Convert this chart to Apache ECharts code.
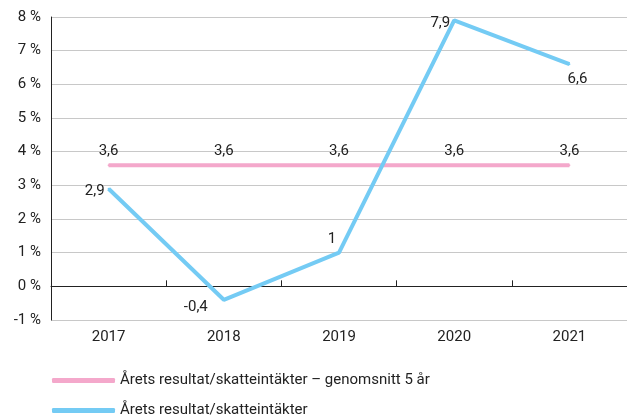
<!DOCTYPE html>
<html>
<head>
<meta charset="utf-8">
<script src="https://cdn.jsdelivr.net/npm/echarts@6/dist/echarts.min.js"></script>
<style>
    html, body { margin: 0; padding: 0; background: #fff; }
    #chart { width: 627px; height: 417px; }
</style>
</head>
<body>
<div id="chart"></div>
<script>
const years = ['2017', '2018', '2019', '2020', '2021'];
const average = [3.6, 3.6, 3.6, 3.6, 3.6];
const result = [2.9, -0.4, 1, 7.9, 6.6];
const resultLabelPos = ['left', 'bottom', 'top', 'left', 'bottom'];
const resultLabelShift = [[2, 3], [-28, -6], [-7, 0], [2, 3], [8, 2]];
const avgName = 'Årets resultat/skatteintäkter – genomsnitt 5 år';
const resName = 'Årets resultat/skatteintäkter';

const fmt = v => String(v).replace('.', ',');
const font = 'Roboto';
const pink = '#f4a8cb';
const blue = '#74cbf4';

function legendAt(top, name, color) {
    return {
        left: 47,
        top,
        icon: 'roundRect',
        itemWidth: 63,
        itemHeight: 5,
        textStyle: { fontFamily: font, fontSize: 15, color: '#222' },
        data: [{ name, itemStyle: { color, opacity: 1 } }]
    };
}

const chart = echarts.init(document.getElementById('chart'));
const option = {
    backgroundColor: '#fff',
    animation: false,
    textStyle: { fontFamily: font },
    grid: { left: 51, right: 0, top: 17, bottom: 97 },
    legend: [
        legendAt(368, avgName, pink),
        legendAt(398, resName, blue)
    ],
    xAxis: [
        {
            type: 'category',
            data: years,
            position: 'bottom',
            axisLine: { show: false, onZero: false },
            axisTick: { show: false },
            axisLabel: { color: '#222', fontSize: 15, margin: 10 }
        },
        {
            type: 'category',
            data: years,
            position: 'top',
            axisLine: { onZero: true, lineStyle: { color: '#222', width: 1 } },
            axisTick: { show: true, length: 6, lineStyle: { color: '#222' } },
            axisLabel: { show: false }
        }
    ],
    yAxis: {
        type: 'value',
        min: -1,
        max: 8,
        interval: 1,
        axisLine: { show: true, lineStyle: { color: '#222' } },
        axisTick: { show: false },
        splitLine: { lineStyle: { color: '#c8c8c8', width: 1 } },
        axisLabel: { color: '#222', fontSize: 15, margin: 10, formatter: v => v + ' %' }
    },
    series: [
        {
            name: avgName,
            type: 'line',
            data: average,
            symbol: 'circle',
            symbolSize: 2,
            showSymbol: true,
            lineStyle: { color: pink, width: 4 },
            itemStyle: { color: pink },
            label: {
                show: true,
                position: 'top',
                distance: 5,
                color: '#222',
                fontSize: 15,
                formatter: p => fmt(p.value)
            }
        },
        {
            name: resName,
            type: 'line',
            data: result.map((v, i) => ({
                value: v,
                label: { position: resultLabelPos[i], offset: resultLabelShift[i] }
            })),
            symbol: 'circle',
            symbolSize: 2,
            showSymbol: true,
            lineStyle: { color: blue, width: 4 },
            itemStyle: { color: blue },
            label: {
                show: true,
                distance: 5,
                color: '#222',
                fontSize: 15,
                formatter: p => fmt(p.value)
            }
        }
    ]
};
chart.setOption(option);
</script>
</body>
</html>
